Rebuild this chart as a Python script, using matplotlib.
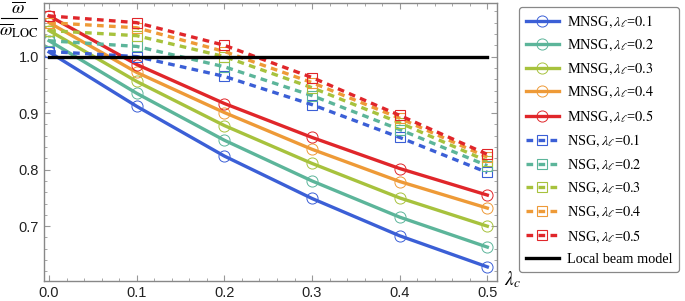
"""Normalised frequency vs lambda_c for MNSG / NSG models."""

import matplotlib

matplotlib.use("Agg")
import matplotlib.pyplot as plt
from matplotlib.lines import Line2D
from matplotlib.ticker import MultipleLocator

plt.rcParams["font.family"] = ["Liberation Sans", "DejaVu Sans"]
plt.rcParams["mathtext.fontset"] = "stix"

lambda_c = [0.0, 0.1, 0.2, 0.3, 0.4, 0.5]
lambda_l = [0.1, 0.2, 0.3, 0.4, 0.5]

# MNSG (solid, circles)
mnsg = [
    [1.008, 0.912, 0.824, 0.749, 0.683, 0.628],
    [1.028, 0.935, 0.852, 0.780, 0.716, 0.663],
    [1.046, 0.956, 0.878, 0.811, 0.750, 0.700],
    [1.060, 0.972, 0.901, 0.836, 0.779, 0.732],
    [1.072, 0.986, 0.917, 0.857, 0.802, 0.755],
]
# NSG (dashed, squares)
nsg = [
    [1.009, 1.000, 0.965, 0.915, 0.857, 0.795],
    [1.028, 1.018, 0.982, 0.931, 0.871, 0.807],
    [1.046, 1.037, 1.000, 0.945, 0.883, 0.815],
    [1.060, 1.051, 1.009, 0.954, 0.891, 0.822],
    [1.072, 1.060, 1.020, 0.963, 0.896, 0.827],
]
local_beam = [1.0, 1.0]
local_x = [0.0, 0.5]

colors = ["#3b5fd6", "#5cb59a", "#a7c23d", "#ee9a37", "#e0262a"]

fig = plt.figure(figsize=(6.85, 3.01), dpi=100)
ax = fig.add_axes([0.064, 0.0664, 0.6615, 0.924])

for vals, lam, c in zip(mnsg, lambda_l, colors):
    ax.plot(lambda_c, vals, color=c, lw=2.4, marker="o", ms=8,
            mfc="none", mec=c, mew=0.7,
            label=rf"MNSG$,\lambda_\ell$=${lam}$")
for vals, lam, c in zip(nsg, lambda_l, colors):
    ax.plot(lambda_c, vals, color=c, lw=2.4, ls=(0, (2.0, 1.6)), marker="s",
            ms=6.5, mfc="none", mec=c, mew=0.8,
            label=rf"NSG$,\lambda_\ell$=${lam}$")
ax.plot(local_x, local_beam, color="black", lw=2.4, label="Local beam model")

ax.set_xlim(-0.006, 0.511)
ax.set_ylim(0.603, 1.095)
ax.xaxis.set_major_locator(MultipleLocator(0.1))
ax.xaxis.set_minor_locator(MultipleLocator(0.02))
ax.yaxis.set_minor_locator(MultipleLocator(0.02))
ax.set_yticks([0.7, 0.8, 0.9, 1.0])
ax.yaxis.set_major_formatter(plt.FuncFormatter(lambda v, p: f"{v:.1f}"))
ax.xaxis.set_major_formatter(plt.FuncFormatter(lambda v, p: f"{v:.1f}"))
ax.tick_params(which="both", direction="in", top=True, right=True,
               color="#999999", labelsize=10.5, labelcolor="#222222")
ax.tick_params(which="major", length=4.5, width=0.8)
ax.tick_params(which="minor", length=2.5, width=0.6)
ax.tick_params(axis="x", pad=3.5)
for s in ax.spines.values():
    s.set_color("#888888")
    s.set_linewidth(1.0)

# y label drawn as a stacked fraction
fig.text(18 / 685, 1 - 9 / 301, r"$\overline{\omega}$", fontsize=13,
         ha="center", va="center")
fig.add_artist(Line2D([1 / 685, 37 / 685], [1 - 18 / 301] * 2,
                      color="black", lw=0.8))
fig.text(19 / 685, 1 - 31 / 301, r"$\overline{\omega}_{\mathrm{LOC}}$",
         fontsize=13, ha="center", va="center")
fig.text(0.748, 0.072, r"$\lambda_c$", fontsize=14, ha="center", va="center")

leg = fig.legend(loc="upper left", bbox_to_anchor=(0.758, 0.976),
                 prop={"family": "Liberation Serif", "size": 10.3},
                 handlelength=2.3, handletextpad=0.6, labelspacing=0.58,
                 borderpad=0.45, borderaxespad=0, fancybox=True, framealpha=1,
                 edgecolor="#888888")
leg.get_frame().set_linewidth(0.9)

fig.savefig("out.png", dpi=100)
